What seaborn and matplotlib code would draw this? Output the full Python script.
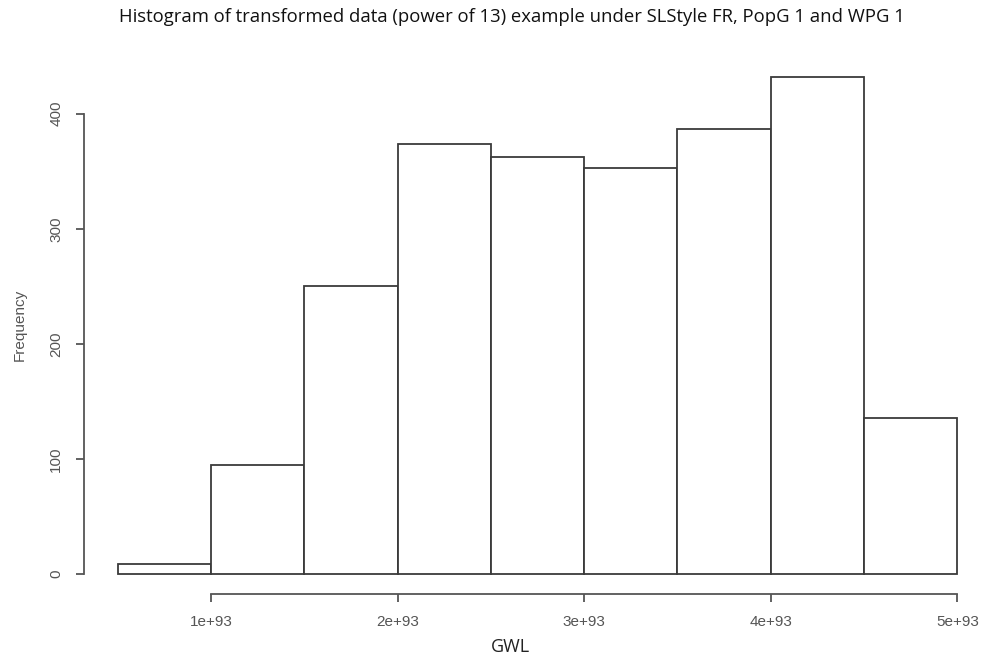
import numpy as np
import pandas as pd
import matplotlib
matplotlib.use("Agg")
import matplotlib.pyplot as plt
import seaborn as sns

# histogram counts, bins of width 0.5e93
bin_edges = [0.5e93, 1.0e93, 1.5e93, 2.0e93, 2.5e93, 3.0e93, 3.5e93, 4.0e93, 4.5e93, 5.0e93]
counts = [9, 95, 250, 374, 362, 353, 387, 432, 136]
x_ticks = [1e93, 2e93, 3e93, 4e93, 5e93]
x_tick_labels = ["1e+93", "2e+93", "3e+93", "4e+93", "5e+93"]
y_ticks = [0, 100, 200, 300, 400]

centers = [(a + b) / 2 for a, b in zip(bin_edges[:-1], bin_edges[1:])]
df = pd.DataFrame({"GWL": centers, "n": counts})

sns.set_style("white")
plt.rcParams["font.family"] = ["Liberation Sans", "DejaVu Sans"]

W, H = 984, 660
fig = plt.figure(figsize=(W / 100, H / 100), dpi=100)
# axes placed in pixels to mimic R base graphics layout (4% range extension)
left_px, right_px, top_px, bottom_px = 84, 991, 57, 594
ax = fig.add_axes([left_px / W, (H - bottom_px) / H,
                   (right_px - left_px) / W, (bottom_px - top_px) / H])

sns.histplot(data=df, x="GWL", weights="n", bins=bin_edges, ax=ax,
             color="white", edgecolor="#3a3a3a", linewidth=1.3, alpha=1)

ax.set_xlim(0.32e93, 5.18e93)
ax.set_ylim(-17.3, 449.3)

for s in ["top", "right"]:
    ax.spines[s].set_visible(False)
ax.spines["left"].set_bounds(0, 400)
ax.spines["bottom"].set_bounds(1e93, 5e93)
for s in ["left", "bottom"]:
    ax.spines[s].set_color("#555555")
    ax.spines[s].set_linewidth(1.3)

ax.set_xticks(x_ticks)
ax.set_xticklabels(x_tick_labels)
ax.set_yticks(y_ticks)
ax.set_yticklabels([str(v) for v in y_ticks], rotation=90, va="center")
ax.tick_params(axis="both", direction="out", length=6, width=1.3,
               color="#555555", labelcolor="#555555", labelsize=11,
               left=True, bottom=True)
ax.tick_params(axis="x", pad=9)
ax.tick_params(axis="y", pad=9)

ax.set_xlabel("")
ax.set_ylabel("")
fig.text(510 / W, 1 - 647 / H, "GWL", ha="center", va="center", fontsize=13,
         family=["Open Sans", "DejaVu Sans"], color="#222222")
fig.text(20 / W, 1 - 325 / H, "Frequency", ha="center", va="center", rotation=90,
         fontsize=11, color="#555555")

fig.text(512 / W, 1 - 17 / H, "Histogram of transformed data (power of 13) example under SLStyle FR, PopG 1 and WPG 1",
         ha="center", va="center", fontsize=13.3, family=["Open Sans", "DejaVu Sans"], color="#111111")

plt.savefig("out.png", dpi=100)
